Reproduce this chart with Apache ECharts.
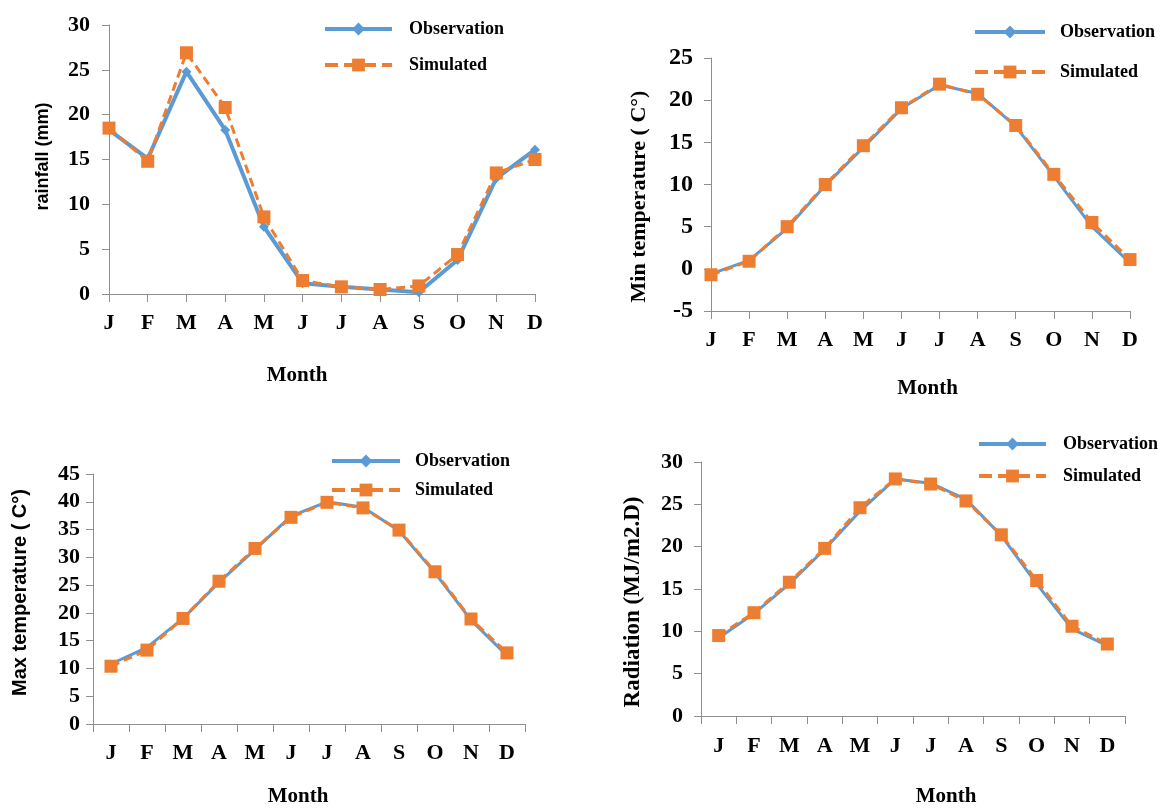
<!DOCTYPE html>
<html>
<head>
<meta charset="utf-8">
<title>Monthly climate: observation vs simulated</title>
<script src="https://cdn.jsdelivr.net/npm/echarts@6/dist/echarts.min.js"></script>
<style>
  html, body { margin: 0; padding: 0; background: #fff; }
  #chart { width: 1163px; height: 808px; }
</style>
</head>
<body>
<div id="chart"></div>
<script>
// Month initials shown on every x axis
const months = ['J', 'F', 'M', 'A', 'M', 'J', 'J', 'A', 'S', 'O', 'N', 'D'];

// Rainfall (mm)
const rainObs = [18.3, 15.1, 24.8, 18.3, 7.5, 1.2, 0.8, 0.5, 0.2, 3.8, 12.9, 16.1];
const rainSim = [18.5, 14.8, 26.9, 20.8, 8.6, 1.5, 0.8, 0.5, 0.9, 4.4, 13.5, 15.0];

// Minimum temperature (°C)
const minObs = [-0.6, 1.0, 4.8, 9.9, 14.4, 19.0, 21.8, 20.8, 16.9, 11.0, 5.0, 0.7];
const minSim = [-0.7, 0.9, 5.0, 10.0, 14.6, 19.1, 21.9, 20.7, 17.0, 11.2, 5.5, 1.1];

// Maximum temperature (°C)
const maxObs = [10.8, 13.8, 19.0, 25.5, 31.4, 37.4, 40.0, 39.0, 34.8, 27.2, 18.7, 12.3];
const maxSim = [10.4, 13.3, 19.0, 25.7, 31.6, 37.2, 39.9, 38.9, 34.9, 27.4, 18.9, 12.8];

// Solar radiation (MJ/m2.D)
const radObs = [9.2, 12.1, 15.6, 19.7, 24.2, 28.0, 27.5, 25.6, 21.3, 15.6, 10.3, 8.3];
const radSim = [9.5, 12.2, 15.8, 19.8, 24.6, 28.0, 27.4, 25.4, 21.4, 16.0, 10.6, 8.5];

const BLUE = '#5B9BD5';
const ORANGE = '#ED7D31';
const AXIS = '#8f8f8f';
const SERIF = '"Liberation Serif", "Times New Roman", serif';
const SANS = '"Liberation Sans", Arial, sans-serif';

const panels = [
  { grid: { left: 109, top: 25, width: 426, height: 269 },
    y: { min: 0, max: 30, size: 22, margin: 19 },
    yName: 'rainfall (mm)', yFont: SANS, ySize: 18, yGap: 57, yPad: [0, 0, 0, 6],
    gap: false, xMargin: 18, xPad: [0, 50, 0, 0], xGap: 71,
    obs: rainObs, sim: rainSim, obsWidth: 4, obsSymbol: 10,
    leg: [{ left: 318, top: 15, w: 67, pad: [0, 0, 6, 12] }, { left: 318, top: 51, w: 67, pad: [6, 0, 0, 12] }] },
  { grid: { left: 711, top: 58, width: 419, height: 253 },
    y: { min: -5, max: 25, size: 24, margin: 18 },
    yName: 'Min temperature ( C°)', yFont: SERIF, ySize: 22, yGap: 61, yPad: [0, 24, 0, 0],
    gap: false, xMargin: 18, xPad: [0, 0, 0, 14], xGap: 67,
    obs: minObs, sim: minSim, obsWidth: 3, obsSymbol: 6,
    leg: [{ left: 968, top: 18, w: 70, pad: [0, 0, 2, 10] }, { left: 968, top: 58, w: 70, pad: [2, 0, 0, 10] }] },
  { grid: { left: 93, top: 474, width: 432, height: 253 },
    y: { min: 0, max: 45, size: 22, margin: 13 },
    yName: 'Max temperature ( C°)', yFont: SANS, ySize: 20, yGap: 63, yPad: [0, 0, 0, 13],
    gap: true, xMargin: 18, xPad: [0, 22, 0, 0], xGap: 62,
    obs: maxObs, sim: maxSim, obsWidth: 3, obsSymbol: 6,
    leg: [{ left: 325, top: 447, w: 68, pad: [0, 0, 14, 10] }, { left: 325, top: 476, w: 68, pad: [16, 0, 0, 10] }] },
  { grid: { left: 701, top: 462, width: 424, height: 255 },
    y: { min: 0, max: 30, size: 22, margin: 18 },
    yName: 'Radiation (MJ/m2.D)', yFont: SERIF, ySize: 23, yGap: 56, yPad: [0, 26, 0, 0],
    gap: true, xMargin: 19, xPad: [0, 0, 0, 66], xGap: 70,
    obs: radObs, sim: radSim, obsWidth: 3, obsSymbol: 6,
    leg: [{ left: 972, top: 430, w: 67, pad: [0, 0, 10, 12] }, { left: 972, top: 462, w: 67, pad: [14, 0, 0, 12] }] }
];

const grid = [], xAxis = [], yAxis = [], series = [], legend = [];

panels.forEach((p, i) => {
  grid.push(Object.assign({ containLabel: false }, p.grid));

  xAxis.push({
    type: 'category', gridIndex: i, data: months, boundaryGap: p.gap,
    name: 'Month', nameLocation: 'middle', nameGap: p.xGap,
    nameTextStyle: { fontFamily: SERIF, fontWeight: 'bold', fontSize: 21, color: '#000', padding: p.xPad },
    axisLine: { onZero: false, lineStyle: { color: AXIS, width: 1 } },
    axisTick: { show: true, alignWithLabel: false, length: 8, lineStyle: { color: AXIS } },
    axisLabel: { fontFamily: SERIF, fontWeight: 'bold', fontSize: 22, color: '#000', margin: p.xMargin, interval: 0 },
    splitLine: { show: false }
  });

  yAxis.push({
    type: 'value', gridIndex: i, min: p.y.min, max: p.y.max, interval: 5,
    name: p.yName, nameLocation: 'middle', nameRotate: 90, nameGap: p.yGap,
    nameTextStyle: { fontFamily: p.yFont, fontWeight: 'bold', fontSize: p.ySize, color: '#000', padding: p.yPad },
    axisLine: { show: true, lineStyle: { color: AXIS, width: 1 } },
    axisTick: { show: true, length: 7, lineStyle: { color: AXIS } },
    axisLabel: { fontFamily: SERIF, fontWeight: 'bold', fontSize: p.y.size, color: '#000', margin: p.y.margin },
    splitLine: { show: false }
  });

  series.push({
    name: 'Observation', type: 'line', xAxisIndex: i, yAxisIndex: i, data: p.obs,
    symbol: 'diamond', symbolSize: p.obsSymbol, showSymbol: true,
    lineStyle: { color: BLUE, width: p.obsWidth }, itemStyle: { color: BLUE },
    emphasis: { disabled: true }, silent: true, animation: false, z: 2
  });
  series.push({
    name: 'Simulated', type: 'line', xAxisIndex: i, yAxisIndex: i, data: p.sim,
    symbol: 'rect', symbolSize: 13, showSymbol: true,
    lineStyle: { color: ORANGE, width: 3, type: [9, 5] }, itemStyle: { color: ORANGE },
    emphasis: { disabled: true }, silent: true, animation: false, z: 3
  });

  // Legend keys: thick solid blue line, thick dashed orange line
  const keyLines = [
    { color: BLUE, width: 4, type: 'solid' },
    { color: ORANGE, width: 4, type: [13, 6] }
  ];
  ['Observation', 'Simulated'].forEach((name, k) => {
    const l = p.leg[k];
    legend.push({
      left: l.left, top: l.top, itemWidth: l.w, itemHeight: 16, selectedMode: false,
      lineStyle: keyLines[k],
      data: [{ name: name, textStyle: { padding: l.pad }, lineStyle: keyLines[k] }],
      textStyle: { fontFamily: SERIF, fontWeight: 'bold', fontSize: 18, color: '#000' }
    });
  });
});

const chart = echarts.init(document.getElementById('chart'), null, { renderer: 'canvas' });
chart.setOption({ animation: false, backgroundColor: '#fff', grid, xAxis, yAxis, series, legend });
</script>
</body>
</html>
